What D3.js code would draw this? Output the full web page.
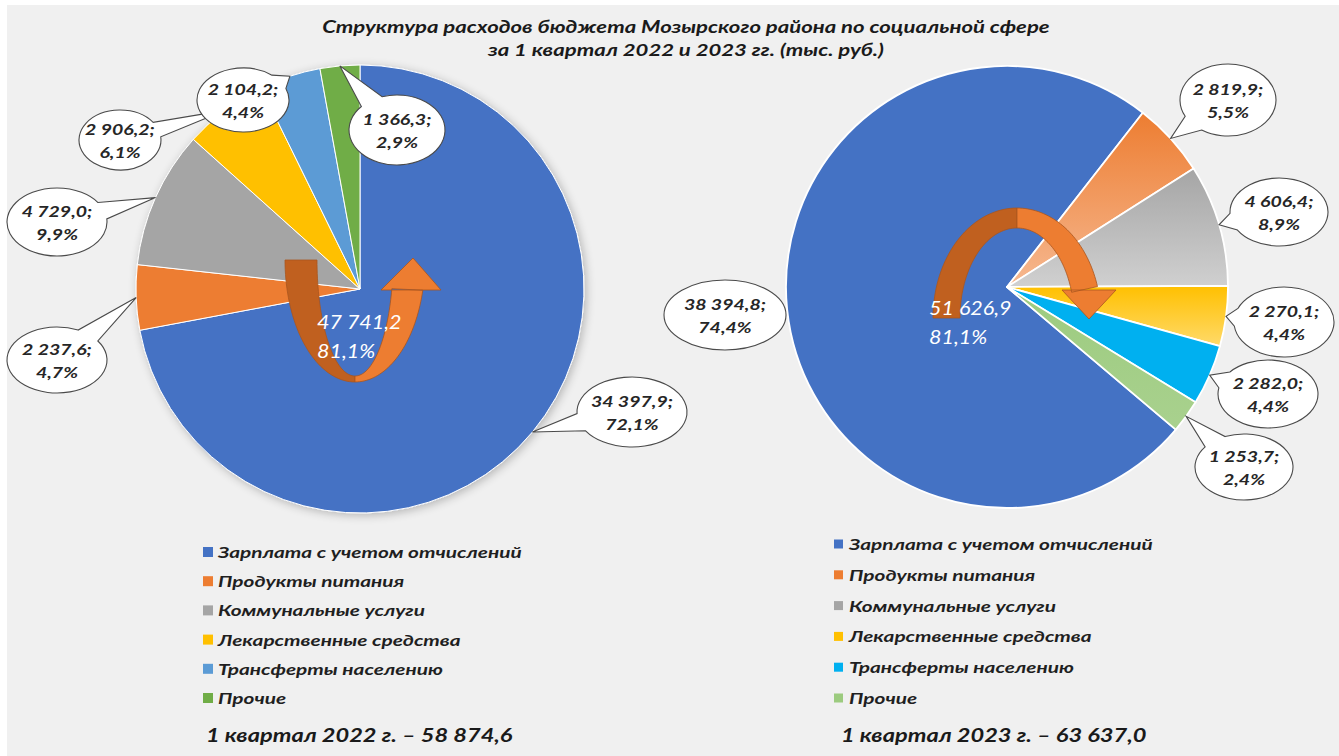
<!DOCTYPE html>
<html>
<head>
<meta charset="utf-8">
<script src="https://cdn.jsdelivr.net/npm/d3@7"></script>
<style>
  html, body { margin: 0; padding: 0; background: #fff; }
  svg text { font-family: Lato, "Open Sans", sans-serif; }
</style>
</head>
<body>
<div id="d3-root" style="width:1339px;height:756px"></div>
<script>
const categories = [
  'Зарплата с учетом отчислений',
  'Продукты питания',
  'Коммунальные услуги',
  'Лекарственные средства',
  'Трансферты населению',
  'Прочие',
]
const values2022 = [34397.9, 2237.6, 4729.0, 2906.2, 2104.2, 1366.3]
const values2023 = [38394.8, 2819.9, 4606.4, 2270.1, 2282.0, 1253.7]
const totals = [58874.6, 63637.0]
const periods = ['1 квартал 2022 г.', '1 квартал 2023 г.']
const titleLines = [
  'Структура расходов бюджета Мозырского района по социальной сфере',
  'за 1 квартал  2022 и 2023 гг. (тыс. руб.)',
]

const colors2022 = ['#4472C4', '#ED7D31', '#A5A5A5', '#FFC000', '#5B9BD5', '#70AD47']
// 2023 slices use gradients (top colour, bottom colour)
const colors2023 = [
  ['#4472C4', '#4472C4'],
  ['#ED7D31', '#F6B890'],
  ['#A5A5A5', '#D0D0D0'],
  ['#FFC000', '#FFDA6A'],
  ['#00B0F0', '#00B0F0'],
  ['#9CCB7F', '#A9D18E'],
]

// callout bubble placement (centre, radii) for each slice
const bubbles2022 = [[632, 412, 55, 35], [57, 360, 50, 33], [57, 222, 50, 34], [120, 140, 41, 30], [243, 100, 46, 32], [397, 130, 48, 35]]
const bubbles2023 = [[725, 315, 61, 35], [1228, 100, 48, 36], [1279, 212, 49, 34], [1284, 322, 50, 35], [1268, 394, 50, 34], [1244, 467, 49, 33]]

const locale = d3.formatLocale({ decimal: ',', thousands: ' ', grouping: [3], currency: ['', ''] })
const fmtNum = locale.format(',.1f')
const fmtPct = v => locale.format('.1f')(v * 100) + '%'

// the source picture is stretched sideways, so text gets widened
function stretch(sel, k) {
  sel.each(function () {
    const w = this.getComputedTextLength()
    this.setAttribute('textLength', w * k)
    this.setAttribute('lengthAdjust', 'spacingAndGlyphs')
  })
}

function drawChart(element) {
  const width = 1339, height = 756
  const svg = d3.select(element).append('svg')
    .attr('width', width)
    .attr('height', height)

  const defs = svg.append('defs')
  colors2023.forEach((c, i) => {
    const g = defs.append('linearGradient').attr('id', 'g23-' + i)
      .attr('x1', 0).attr('y1', 0).attr('x2', 0).attr('y2', 1)
    g.append('stop').attr('offset', '0%').attr('stop-color', c[0])
    g.append('stop').attr('offset', '100%').attr('stop-color', c[1])
  })
  const sh = defs.append('filter').attr('id', 'pieShadow')
    .attr('x', '-10%').attr('y', '-10%').attr('width', '120%').attr('height', '120%')
  sh.append('feGaussianBlur').attr('in', 'SourceAlpha').attr('stdDeviation', 5).attr('result', 'b')
  sh.append('feOffset').attr('in', 'b').attr('dx', 2).attr('dy', 2).attr('result', 'o')
  sh.append('feComponentTransfer').attr('in', 'o').attr('result', 'o2')
    .append('feFuncA').attr('type', 'linear').attr('slope', 0.25)
  const mg = sh.append('feMerge')
  mg.append('feMergeNode').attr('in', 'o2')
  mg.append('feMergeNode').attr('in', 'SourceGraphic')

  svg.append('rect').attr('x', 7).attr('y', 5)
    .attr('width', width - 7).attr('height', height - 5)
    .attr('fill', '#F0F0F0')

  // title
  svg.append('g').selectAll('text')
    .data(titleLines)
    .join('text')
    .attr('x', 686)
    .attr('y', (d, i) => 33 + i * 23)
    .attr('text-anchor', 'middle')
    .attr('font-size', 17)
    .attr('font-weight', 700)
    .attr('font-style', 'italic')
    .attr('fill', '#1a1a1a')
    .text(d => d)
    .call(stretch, 1.3)

  const pies = [
    { values: values2022, total: totals[0], cx: 360, cy: 289, r: 224, start: 0,
      fill: i => colors2022[i], legendColor: i => colors2022[i], stroke: 1,
      bubbles: bubbles2022, legendX: 203, legendY: 553, legendStep: 29.2, sq: 10,
      centerX: 317, centerY: 329, period: periods[0], periodX: 206 },
    { values: values2023, total: totals[1], cx: 1007, cy: 287, r: 221, start: 130.2 * Math.PI / 180,
      fill: i => `url(#g23-${i})`, legendColor: i => colors2023[i][0], stroke: 1.8,
      bubbles: bubbles2023, legendX: 834, legendY: 545, legendStep: 30.8, sq: 9,
      centerX: 929, centerY: 315, period: periods[1], periodX: 841 },
  ]

  pies.forEach((p, pi) => {
    const sum = d3.sum(p.values)
    const pie = d3.pie().sort(null).startAngle(p.start).endAngle(p.start + 2 * Math.PI)
    const arcs = pie(p.values)
    const arc = d3.arc().innerRadius(0).outerRadius(p.r)

    const g = svg.append('g').attr('transform', `translate(${p.cx},${p.cy})`)
    g.append('g')
      .attr('filter', pi === 0 ? 'url(#pieShadow)' : null)
      .selectAll('path')
      .data(arcs)
      .join('path')
      .attr('d', arc)
      .attr('fill', (d, i) => p.fill(i))
      .attr('stroke', '#fff')
      .attr('stroke-width', p.stroke)
      .attr('stroke-linejoin', 'round')

    // callouts
    const bubble = svg.append('g')
    arcs.forEach((a, i) => {
      const [bx, by, rx, ry] = p.bubbles[i]
      const mid = (a.startAngle + a.endAngle) / 2
      const tx = p.cx + p.r * Math.sin(mid)
      const ty = p.cy - p.r * Math.cos(mid)
      const phi = Math.atan2((ty - by) / ry, (tx - bx) / rx)
      const dlt = 0.26
      const p1 = [bx + rx * Math.cos(phi + dlt), by + ry * Math.sin(phi + dlt)]
      const p2 = [bx + rx * Math.cos(phi - dlt), by + ry * Math.sin(phi - dlt)]
      const inside = ((tx - bx) / rx) ** 2 + ((ty - by) / ry) ** 2 < 1.15
      const d = inside
        ? `M${bx - rx},${by}A${rx},${ry} 0 1 1 ${bx + rx},${by}A${rx},${ry} 0 1 1 ${bx - rx},${by}Z`
        : `M${p1}A${rx},${ry} 0 1 1 ${p2}L${tx},${ty}Z`
      bubble.append('path')
        .attr('d', d)
        .attr('fill', '#fff')
        .attr('stroke', '#4a4a4a')
        .attr('stroke-width', 1.1)
      bubble.append('g').selectAll('text')
        .data([fmtNum(a.data) + ';', fmtPct(a.data / sum)])
        .join('text')
        .attr('x', bx)
        .attr('y', (d, k) => by - 5 + k * 23)
        .attr('text-anchor', 'middle')
        .attr('font-size', 15)
        .attr('font-weight', 700)
        .attr('font-style', 'italic')
        .attr('fill', '#262626')
        .text(d => d)
        .call(stretch, 1.3)
    })

    // legend
    const lg = svg.append('g')
    categories.forEach((c, i) => {
      const y = p.legendY + i * p.legendStep
      lg.append('rect')
        .attr('x', p.legendX).attr('y', y - p.sq / 2 - 1)
        .attr('width', p.sq).attr('height', p.sq)
        .attr('fill', p.legendColor(i))
      lg.append('text')
        .attr('x', p.legendX + 15).attr('y', y + 5)
        .attr('font-size', 16)
        .attr('font-weight', 700)
        .attr('font-style', 'italic')
        .attr('fill', '#1f1f1f')
        .text(c)
        .call(stretch, 1.3)
    })

    svg.append('text')
      .attr('x', p.periodX).attr('y', 742)
      .attr('font-size', 19)
      .attr('font-weight', 700)
      .attr('font-style', 'italic')
      .attr('fill', '#1a1a1a')
      .text(`${p.period} – ${fmtNum(p.total)}`)
      .call(stretch, 1.24)

    p.sum = sum
  })

  // curved arrows
  function band(cx, cy, rxo, ryo, rxi, ryi, t0, t1) {
    const n = 40
    const pts = []
    for (let k = 0; k <= n; k++) {
      const t = t0 + (t1 - t0) * k / n
      pts.push([cx + rxo * Math.cos(t), cy + ryo * Math.sin(t)])
    }
    for (let k = n; k >= 0; k--) {
      const t = t0 + (t1 - t0) * k / n
      pts.push([cx + rxi * Math.cos(t), cy + ryi * Math.sin(t)])
    }
    return 'M' + pts.map(q => q.join(',')).join('L') + 'Z'
  }
  const arrows = svg.append('g')
    .attr('stroke', '#A9551E')
    .attr('stroke-width', 0.8)

  // left: U-turn pointing up
  arrows.append('path')
    .attr('d', band(355, 260, 70, 122, 38, 116, Math.PI, Math.PI / 2))
    .attr('fill', '#C0601F')
  arrows.append('path')
    .attr('d', band(355, 260, 70, 122, 38, 116, Math.PI / 2, 0.25)
      + `M381,290L413,258L441,290Z`)
    .attr('fill', '#ED7D31')

  // right: arc pointing down
  arrows.append('path')
    .attr('d', band(1017, 318, 84, 110, 57, 90, -Math.PI, -Math.PI / 2))
    .attr('fill', '#C0601F')
  arrows.append('path')
    .attr('d', band(1017, 318, 84, 110, 57, 90, -Math.PI / 2, -0.29)
      + `M1062,290L1116,290L1089,319Z`)
    .attr('fill', '#ED7D31')

  // centre labels
  pies.forEach(p => {
    svg.append('g').selectAll('text')
      .data([fmtNum(p.sum), fmtPct(p.sum / p.total)])
      .join('text')
      .attr('x', p.centerX)
      .attr('y', (d, k) => p.centerY + k * 29)
      .attr('font-size', 18.5)
      .attr('font-style', 'italic')
      .attr('fill', '#fff')
      .text(d => d)
      .call(stretch, 1.16)
  })
}

window.addEventListener('load', () => {
  drawChart(document.getElementById('d3-root'))
})
</script>
</body>
</html>
